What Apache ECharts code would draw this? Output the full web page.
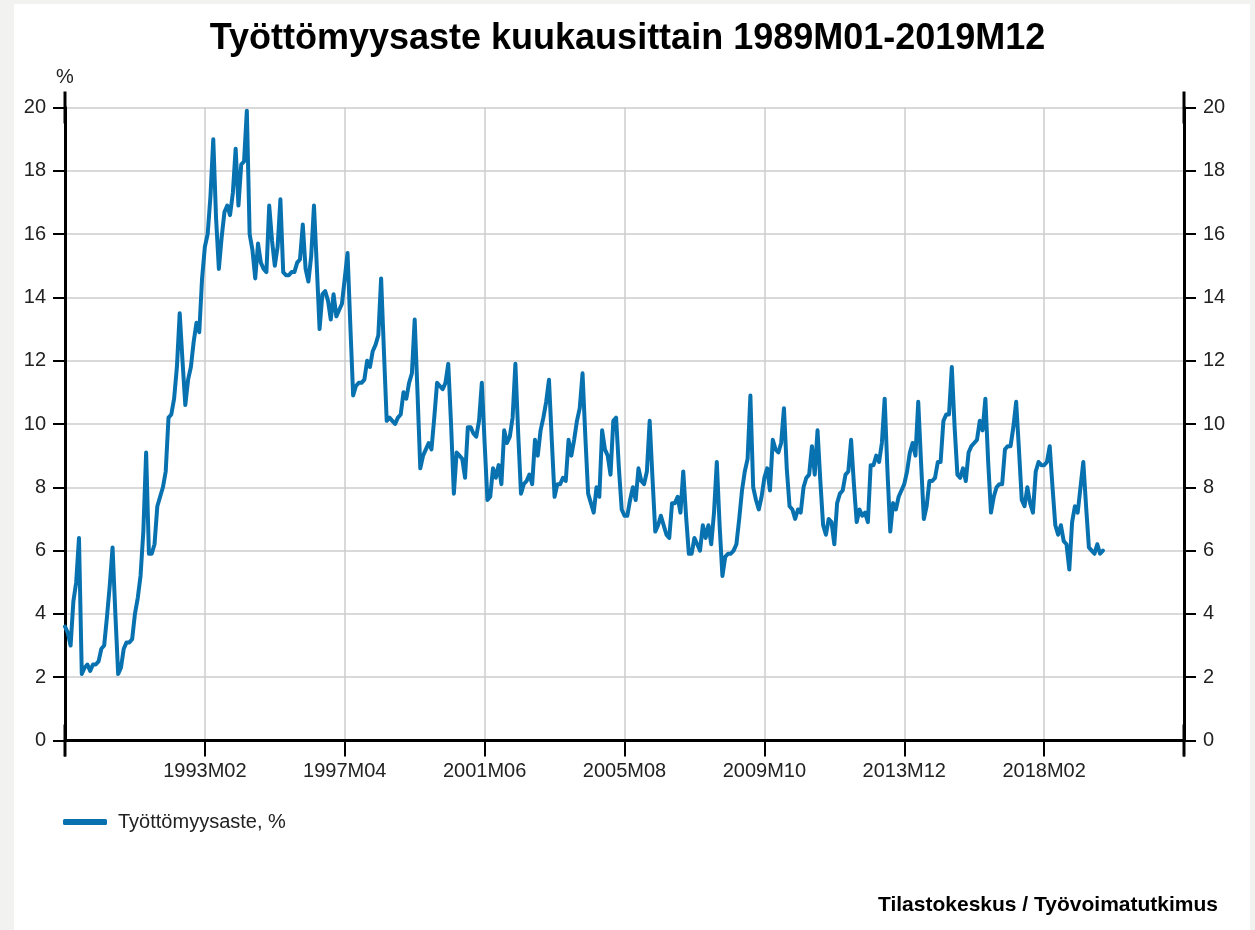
<!DOCTYPE html>
<html>
<head>
<meta charset="utf-8">
<script src="https://cdn.jsdelivr.net/npm/echarts@6/dist/echarts.min.js"></script>
<style>
  html, body { margin: 0; padding: 0; background: #f2f2f0; }
  #card { position: absolute; left: 14px; top: 4px; width: 1236px; height: 926px; background: #fff; }
  #main { position: absolute; left: 0; top: 0; width: 1255px; height: 930px; }
</style>
</head>
<body>
<div id="card"></div>
<div id="main"></div>
<script>
// kuukausittainen työttömyysaste 1989M01-2019M12, yksi rivi per vuosi
var tyottomyysaste = [
    3.6, 3.4, 3.0, 4.4, 5.0, 6.4, 2.1, 2.3, 2.4, 2.2, 2.4, 2.4,
    2.5, 2.9, 3.0, 3.9, 4.9, 6.1, 4.0, 2.1, 2.3, 2.9, 3.1, 3.1,
    3.2, 4.0, 4.5, 5.2, 6.6, 9.1, 5.9, 5.9, 6.2, 7.4, 7.7, 8.0,
    8.5, 10.2, 10.3, 10.8, 11.8, 13.5, 12.0, 10.6, 11.4, 11.8, 12.6, 13.2,
    12.9, 14.6, 15.6, 16.0, 17.2, 19.0, 16.5, 14.9, 15.9, 16.7, 16.9, 16.6,
    17.3, 18.7, 16.9, 18.2, 18.3, 19.9, 16.0, 15.5, 14.6, 15.7, 15.1, 14.9,
    14.8, 16.9, 15.8, 15.0, 15.6, 17.1, 14.8, 14.7, 14.7, 14.8, 14.8, 15.1,
    15.2, 16.3, 14.9, 14.5, 15.3, 16.9, 15.0, 13.0, 14.1, 14.2, 13.9, 13.3,
    14.1, 13.4, 13.6, 13.8, 14.6, 15.4, 13.1, 10.9, 11.2, 11.3, 11.3, 11.4,
    12.0, 11.8, 12.3, 12.5, 12.8, 14.6, 12.3, 10.1, 10.2, 10.1, 10.0, 10.2,
    10.3, 11.0, 10.8, 11.3, 11.6, 13.3, 11.0, 8.6, 9.0, 9.2, 9.4, 9.2,
    10.2, 11.3, 11.2, 11.1, 11.3, 11.9, 10.0, 7.8, 9.1, 9.0, 8.9, 8.3,
    9.9, 9.9, 9.7, 9.6, 10.1, 11.3, 9.4, 7.6, 7.7, 8.6, 8.3, 8.7,
    8.1, 9.8, 9.4, 9.6, 10.2, 11.9, 9.7, 7.8, 8.1, 8.2, 8.4, 8.1,
    9.5, 9.0, 9.8, 10.2, 10.7, 11.4, 9.5, 7.7, 8.1, 8.1, 8.3, 8.2,
    9.5, 9.0, 9.5, 10.1, 10.5, 11.6, 9.6, 7.8, 7.5, 7.2, 8.0, 7.7,
    9.8, 9.2, 9.0, 8.4, 10.1, 10.2, 8.6, 7.3, 7.1, 7.1, 7.6, 8.0,
    7.6, 8.6, 8.2, 8.1, 8.5, 10.1, 8.3, 6.6, 6.8, 7.1, 6.8, 6.5,
    6.4, 7.5, 7.5, 7.7, 7.2, 8.5, 7.1, 5.9, 5.9, 6.4, 6.2, 6.0,
    6.8, 6.4, 6.8, 6.2, 7.2, 8.8, 6.8, 5.2, 5.8, 5.9, 5.9, 6.0,
    6.2, 7.0, 7.9, 8.5, 8.9, 10.9, 8.0, 7.6, 7.3, 7.7, 8.3, 8.6,
    7.9, 9.5, 9.2, 9.1, 9.4, 10.5, 8.6, 7.4, 7.3, 7.0, 7.3, 7.2,
    8.0, 8.3, 8.4, 9.3, 8.4, 9.8, 8.2, 6.8, 6.5, 7.0, 6.9, 6.2,
    7.5, 7.8, 7.9, 8.4, 8.5, 9.5, 8.1, 6.9, 7.3, 7.1, 7.2, 6.9,
    8.7, 8.7, 9.0, 8.8, 9.4, 10.8, 8.5, 6.6, 7.5, 7.3, 7.7, 7.9,
    8.1, 8.5, 9.1, 9.4, 9.0, 10.7, 8.8, 7.0, 7.4, 8.2, 8.2, 8.3,
    8.8, 8.8, 10.1, 10.3, 10.3, 11.8, 9.9, 8.4, 8.3, 8.6, 8.2, 9.1,
    9.3, 9.4, 9.5, 10.1, 9.8, 10.8, 8.8, 7.2, 7.7, 8.0, 8.1, 8.1,
    9.2, 9.3, 9.3, 9.9, 10.7, 9.2, 7.6, 7.4, 8.0, 7.5, 7.2, 8.5,
    8.8, 8.7, 8.7, 8.8, 9.3, 8.0, 6.8, 6.5, 6.8, 6.3, 6.2, 5.4,
    6.9, 7.4, 7.2, 8.0, 8.8, 7.4, 6.1, 6.0, 5.9, 6.2, 5.9, 6.0
];

// x-akselin jakoviivojen tekstit (50 kk välein)
var xTickLabels = ['', '1993M02', '1997M04', '2001M06', '2005M08', '2009M10', '2013M12', '2018M02', ''];

var fontti = '"Liberation Sans", Arial, sans-serif';

var myChart = echarts.init(document.getElementById('main'));

var yAxisBase = {
    type: 'value',
    min: 0,
    max: 20,
    interval: 2,
    axisLine: { show: true, lineStyle: { color: '#000', width: 3 }, symbol: ['rect', 'rect'], symbolSize: [3, 32] },
    axisTick: { show: true, length: 12, lineStyle: { color: '#000', width: 2 } },
    axisLabel: { fontSize: 20, color: '#222', margin: 19, fontFamily: fontti }
};

var option = {
    animation: false,
    textStyle: { fontFamily: fontti },
    title: [
        {
            text: 'Työttömyysaste kuukausittain 1989M01-2019M12',
            left: 'center',
            top: 16,
            textStyle: { fontSize: 36, fontWeight: 'bold', color: '#000', fontFamily: fontti }
        },
        {
            text: 'Tilastokeskus / Työvoimatutkimus',
            right: 32,
            top: 890,
            textStyle: { fontSize: 21, fontWeight: 'bold', color: '#000', fontFamily: fontti }
        }
    ],
    legend: {
        left: 63,
        top: 812,
        padding: 0,
        icon: 'roundRect',
        itemWidth: 44,
        itemHeight: 6,
        textStyle: { fontSize: 20, color: '#222', padding: [0, 0, 0, 6], fontFamily: fontti },
        data: ['Työttömyysaste, %']
    },
    grid: { left: 65, right: 71, top: 107.5, bottom: 189.5 },
    xAxis: {
        type: 'value',
        min: 0,
        max: 400,
        interval: 50,
        axisLine: { lineStyle: { color: '#000', width: 3 } },
        axisTick: { length: 16, lineStyle: { color: '#000', width: 2 } },
        axisLabel: {
            fontSize: 20,
            color: '#222',
            margin: 21,
            fontFamily: fontti,
            formatter: function (v) { return xTickLabels[Math.round(v / 50)] || ''; }
        },
        splitLine: { show: true, lineStyle: { color: '#cccccc', width: 1.5 } }
    },
    yAxis: [
        Object.assign({}, yAxisBase, {
            position: 'left',
            name: '%',
            nameLocation: 'end',
            nameGap: 20,
            nameTextStyle: { fontSize: 20, color: '#222', fontFamily: fontti },
            splitLine: { show: true, lineStyle: { color: '#cccccc', width: 1.5 } }
        }),
        Object.assign({}, yAxisBase, {
            position: 'right',
            splitLine: { show: false }
        })
    ],
    series: [
        {
            name: 'Työttömyysaste, %',
            type: 'line',
            symbol: 'none',
            color: '#0872b0',
            lineStyle: { width: 4, color: '#0872b0', join: 'round', cap: 'round' },
            data: tyottomyysaste.map(function (v, i) { return [i, v]; })
        }
    ]
};

myChart.setOption(option);
</script>
</body>
</html>
